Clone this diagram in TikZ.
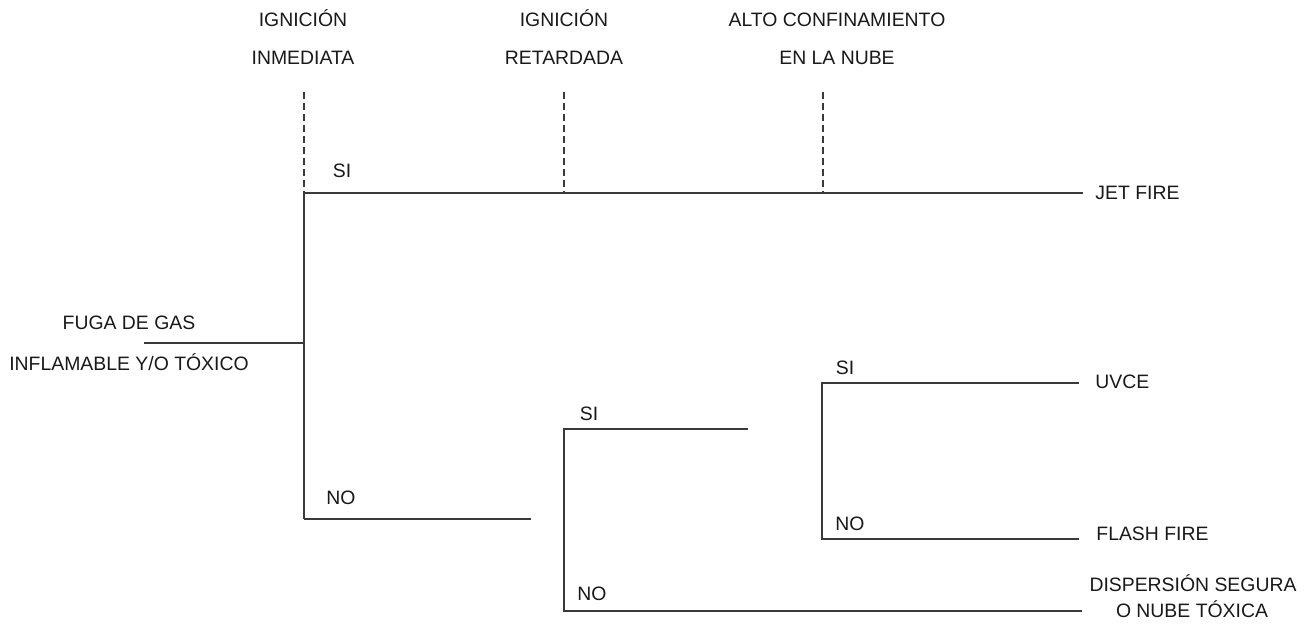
\documentclass[tikz,border=0pt]{standalone}
\usepackage{fontspec}
\setmainfont{Liberation Sans}
\definecolor{treeline}{HTML}{3A3A3A}

\begin{document}
\begin{tikzpicture}[x=0.5pt, y=-0.5pt,
    branch/.style={draw=treeline, line width=1pt},
    guide/.style={draw=treeline, line width=0.7pt, dash pattern=on 3.5pt off 2pt},
    lbl/.style={inner sep=0pt, anchor=base, font=\fontsize{9.7}{11}\selectfont, text=black!90},
    outcome/.style={lbl, anchor=base west}
  ]
    \useasboundingbox (0,0) rectangle (1314,623);

    % column headers
    \node[lbl] (h1a) at (303,26) {IGNICIÓN};
    \node[lbl] (h1b) at (303,64.5) {INMEDIATA};
    \node[lbl] (h2a) at (564,26) {IGNICIÓN};
    \node[lbl] (h2b) at (564,64.5) {RETARDADA};
    \node[lbl] (h3a) at (837,26) {ALTO CONFINAMIENTO};
    \node[lbl] (h3b) at (837,64.5) {EN LA NUBE};

    % initiating event
    \node[lbl] (ev1) at (129,329) {FUGA DE GAS};
    \node[lbl] (ev2) at (129,370.5) {INFLAMABLE Y/O TÓXICO};
    \coordinate (root) at (144,343);

    % junctions
    \coordinate (j1) at (304,343);
    \coordinate (j1si) at (304,193);
    \coordinate (j1no) at (304,519);
    \coordinate (e1no) at (531,519);
    \coordinate (j2si) at (564,429);
    \coordinate (j2no) at (564,611);
    \coordinate (e2si) at (748,429);
    \coordinate (j3si) at (822,383);
    \coordinate (j3no) at (822,539);

    % dashed guides
    \coordinate (g1) at (304,92);
    \coordinate (g2) at (564,92);
    \coordinate (g2b) at (564,193);
    \coordinate (g3) at (823,92);
    \coordinate (g3b) at (823,193);
    \draw[guide] (g1) -- (j1si);
    \draw[guide] (g2) -- (g2b);
    \draw[guide] (g3) -- (g3b);

    % outcomes
    \node[outcome] (jet) at (1095,199.5) {JET FIRE};
    \node[outcome] (uvce) at (1095,388) {UVCE};
    \node[outcome] (flash) at (1096,540) {FLASH FIRE};
    \node[lbl] (disp1) at (1193,591.5) {DISPERSIÓN SEGURA};
    \node[lbl] (disp2) at (1192,617) {O NUBE TÓXICA};
    \coordinate (ejet) at (1083,193);
    \coordinate (euvce) at (1079,383);
    \coordinate (eflash) at (1079,539);
    \coordinate (edisp) at (1082,611);

    % tree
    \draw[branch] (root) -- (j1);
    \draw[branch] (j1si) -- (j1no);
    \draw[branch] (j1si) -- (ejet);
    \draw[branch] (j1no) -- (e1no);
    \draw[branch] (e2si) -- (j2si) -- (j2no) -- (edisp);
    \draw[branch] (euvce) -- (j3si) -- (j3no) -- (eflash);

    % branch labels
    \node[lbl] (si1) at (342,177) {SI};
    \node[lbl] (no1) at (341,504.5) {NO};
    \node[lbl] (si2) at (589,420) {SI};
    \node[lbl] (no2) at (592,600) {NO};
    \node[lbl] (si3) at (845,374) {SI};
    \node[lbl] (no3) at (850,530) {NO};
  \end{tikzpicture}
\end{document}
